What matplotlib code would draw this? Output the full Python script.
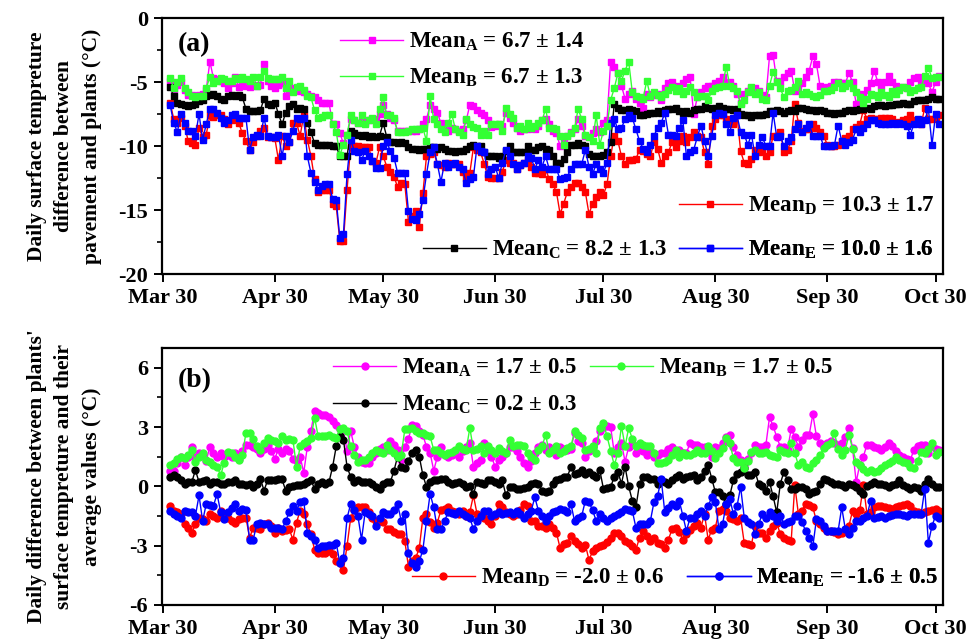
import matplotlib
matplotlib.use("Agg")
import matplotlib.pyplot as plt
import matplotlib.dates as mdates
import pandas as pd

plt.rcParams['font.family'] = ['Liberation Serif', 'DejaVu Serif']
plt.rcParams['font.weight'] = 'bold'
plt.rcParams['axes.unicode_minus'] = False
plt.rcParams['mathtext.fontset'] = 'custom'
plt.rcParams['mathtext.rm'] = 'Liberation Serif:bold'
plt.rcParams['mathtext.bf'] = 'Liberation Serif:bold'
plt.rcParams['mathtext.it'] = 'Liberation Serif:bold:italic'

# daily values, Apr 1 .. Oct 31
start_day = '2017-04-01'
tick_days = ['2017-03-30', '2017-04-30', '2017-05-30', '2017-06-30',
             '2017-07-30', '2017-08-30', '2017-09-30', '2017-10-30']

# (a) pavement minus plant surface temperature
a_A = [-4.9, -5.6, -5.2, -5.0, -5.6, -6.0, -6.0, -6.1, -6.0, -5.9,
       -5.6, -3.4, -4.7, -4.8, -4.9, -5.1, -5.5, -5.1, -4.6, -5.4,
       -5.2, -5.3, -5.4, -5.2, -5.3, -5.2, -3.6, -4.9, -5.3, -5.5,
       -5.2, -5.1, -6.1, -5.6, -5.5, -5.5, -5.7, -5.8, -5.9, -6.1,
       -6.2, -6.4, -6.6, -6.6, -6.6, -8.3, -8.3, -9.0, -9.8, -9.1,
       -7.9, -8.0, -8.2, -8.1, -8.2, -8.0, -7.9, -7.9, -7.5, -6.8,
       -7.5, -7.8, -8.0, -8.8, -8.8, -8.8, -8.8, -8.8, -8.8, -8.7,
       -8.3, -7.9, -6.8, -7.1, -7.4, -8.2, -8.3, -8.8, -8.6, -8.7,
       -8.8, -8.7, -8.0, -6.8, -6.9, -7.2, -7.4, -7.6, -8.0, -8.5,
       -8.4, -8.3, -8.4, -7.4, -7.8, -8.2, -8.6, -8.8, -8.7, -8.7,
       -8.6, -8.7, -8.4, -8.0, -7.9, -8.3, -8.8, -9.0, -10.0, -9.5,
       -9.2, -8.9, -8.7, -7.9, -8.4, -9.2, -9.3, -9.0, -8.7, -8.9,
       -8.2, -8.0, -3.4, -3.8, -4.3, -5.3, -6.3, -5.9, -5.7, -6.3,
       -6.6, -7.0, -5.9, -6.2, -6.0, -5.9, -6.4, -5.5, -5.1, -5.0,
       -5.3, -5.4, -5.1, -4.8, -4.6, -7.5, -6.2, -5.8, -5.5, -5.3,
       -5.3, -5.1, -4.9, -4.6, -5.1, -5.0, -5.3, -5.9, -6.6, -5.9,
       -5.7, -5.5, -5.5, -5.7, -6.0, -6.2, -3.0, -2.9, -4.9, -5.0,
       -4.6, -4.3, -4.1, -5.7, -5.4, -5.1, -4.6, -4.1, -3.0, -3.6,
       -5.3, -5.5, -5.4, -5.3, -5.0, -5.0, -5.1, -5.1, -4.3, -5.0,
       -6.7, -5.9, -6.1, -5.6, -5.1, -4.1, -5.0, -5.3, -5.0, -4.5,
       -5.0, -5.3, -5.5, -5.4, -5.5, -5.0, -4.7, -4.6, -5.1, -4.6,
       -5.1, -5.8, -5.0, -4.5]
a_B = [-4.7, -5.5, -5.0, -4.7, -5.5, -5.8, -6.1, -6.2, -6.1, -6.1,
       -5.5, -4.6, -5.1, -4.9, -4.7, -4.8, -4.9, -4.9, -4.7, -4.8,
       -4.6, -4.8, -4.9, -4.6, -5.3, -4.6, -4.1, -4.7, -4.8, -4.8,
       -4.8, -4.6, -5.5, -4.9, -5.8, -5.4, -5.3, -5.6, -6.1, -6.2,
       -7.2, -7.8, -7.7, -7.6, -7.6, -8.3, -8.9, -10.7, -9.9, -9.1,
       -7.6, -8.0, -8.2, -7.6, -8.3, -8.0, -7.8, -8.3, -7.1, -6.2,
       -7.6, -7.6, -7.8, -8.9, -8.9, -8.9, -8.8, -8.7, -8.7, -8.7,
       -8.6, -9.6, -6.1, -7.9, -8.3, -8.7, -8.9, -8.2, -7.5, -8.7,
       -8.9, -9.1, -7.9, -8.3, -8.5, -8.6, -9.1, -8.8, -9.1, -8.3,
       -8.3, -8.3, -8.8, -7.0, -7.5, -7.8, -8.6, -8.4, -8.7, -8.2,
       -8.6, -8.4, -8.2, -8.0, -7.1, -8.6, -8.6, -8.7, -9.2, -9.9,
       -9.2, -9.0, -8.6, -7.1, -7.9, -9.1, -9.3, -9.6, -7.6, -9.9,
       -8.8, -8.4, -6.4, -5.5, -4.3, -4.9, -4.1, -3.4, -5.8, -6.1,
       -6.2, -6.3, -4.9, -6.1, -5.8, -6.0, -6.2, -5.9, -5.6, -5.4,
       -5.7, -5.5, -5.9, -5.7, -5.4, -5.8, -6.2, -6.1, -6.1, -6.4,
       -5.7, -5.5, -5.4, -5.3, -3.8, -5.3, -5.5, -5.7, -6.7, -6.4,
       -5.8, -5.4, -5.9, -5.8, -6.3, -6.4, -5.3, -4.2, -5.0, -5.5,
       -6.2, -5.7, -5.6, -5.4, -4.9, -5.9, -5.8, -5.9, -6.1, -6.2,
       -6.0, -5.7, -5.7, -5.6, -5.4, -5.1, -5.5, -5.3, -5.1, -5.5,
       -5.8, -6.2, -6.6, -6.3, -5.9, -6.0, -6.2, -5.8, -6.0, -6.2,
       -5.7, -5.9, -5.6, -5.4, -5.5, -5.8, -5.6, -5.5, -5.4, -4.5,
       -3.9, -4.7, -4.6, -4.6]
a_C = [-5.4, -6.1, -6.6, -6.7, -6.8, -6.9, -6.8, -6.7, -6.5, -6.4,
       -6.1, -6.0, -5.9, -6.1, -6.3, -6.4, -6.1, -6.0, -6.1, -6.0,
       -6.2, -7.1, -7.3, -7.3, -7.3, -7.2, -6.3, -6.7, -6.8, -6.6,
       -7.5, -8.3, -7.4, -6.9, -6.7, -7.1, -7.0, -7.1, -8.2, -8.9,
       -9.8, -9.9, -9.9, -9.9, -9.9, -10.0, -10.0, -10.8, -10.8, -10.8,
       -8.8, -9.0, -9.1, -9.2, -9.1, -9.3, -9.2, -9.3, -9.2, -8.2,
       -9.3, -9.7, -9.7, -9.8, -9.7, -9.8, -10.1, -10.2, -10.2, -10.3,
       -10.2, -10.2, -10.1, -10.1, -10.2, -10.1, -10.2, -10.4, -10.4, -10.5,
       -10.4, -10.4, -10.2, -10.0, -9.9, -10.0, -10.0, -10.5, -10.8, -10.8,
       -10.8, -10.9, -10.8, -10.4, -10.0, -10.5, -10.5, -10.5, -10.5, -10.0,
       -10.3, -10.3, -10.1, -10.0, -10.2, -10.3, -10.8, -11.3, -11.3, -11.0,
       -10.5, -9.9, -9.9, -9.8, -9.9, -10.0, -10.6, -10.8, -10.8, -10.8,
       -10.7, -10.5, -9.7, -6.7, -7.0, -7.2, -7.2, -7.1, -7.2, -7.3,
       -7.6, -7.6, -7.5, -7.4, -7.4, -7.3, -7.4, -7.2, -7.1, -7.1,
       -7.0, -7.3, -7.4, -7.3, -7.4, -7.2, -7.1, -7.1, -6.9, -7.0,
       -7.1, -7.0, -6.9, -7.0, -7.1, -7.1, -7.2, -7.1, -7.5, -7.6,
       -7.6, -7.7, -7.6, -7.6, -7.6, -7.5, -7.3, -7.3, -7.2, -7.3,
       -7.4, -7.3, -7.2, -7.3, -7.0, -7.0, -7.1, -7.2, -7.2, -7.3,
       -7.2, -7.3, -7.4, -7.4, -7.5, -7.4, -7.4, -7.3, -7.2, -7.3,
       -7.2, -7.1, -7.1, -7.0, -7.1, -6.9, -6.8, -6.8, -6.9, -6.8,
       -6.8, -6.7, -6.7, -6.6, -6.7, -6.7, -6.5, -6.4, -6.4, -6.4,
       -6.3, -6.2, -6.3, -6.3]
a_D = [-6.6, -7.9, -8.2, -7.8, -8.4, -9.6, -9.8, -9.9, -8.6, -9.3,
       -9.1, -7.6, -7.7, -7.6, -7.6, -7.9, -8.3, -8.0, -7.9, -8.2,
       -9.0, -9.6, -10.3, -9.7, -9.2, -8.8, -8.6, -9.3, -9.3, -9.4,
       -11.1, -9.2, -10.0, -9.7, -8.2, -8.2, -9.2, -7.6, -9.5, -10.8,
       -12.6, -13.6, -13.4, -13.4, -13.4, -14.5, -14.7, -17.4, -17.4, -13.4,
       -10.0, -10.0, -10.0, -10.1, -10.1, -10.1, -11.2, -11.3, -10.1, -10.8,
       -11.6, -12.0, -12.4, -13.2, -12.9, -13.0, -15.9, -15.5, -15.1, -16.3,
       -13.7, -10.8, -10.6, -10.5, -11.4, -11.5, -11.6, -11.3, -11.4, -11.4,
       -11.4, -12.0, -12.5, -12.1, -10.1, -10.3, -10.5, -11.4, -12.4, -12.5,
       -12.5, -12.5, -12.0, -11.1, -11.3, -11.3, -11.8, -11.5, -11.3, -11.1,
       -11.6, -12.1, -12.1, -12.2, -11.8, -12.6, -13.0, -13.6, -15.3, -14.5,
       -13.6, -13.2, -12.9, -12.9, -13.2, -13.6, -15.3, -14.5, -14.0, -13.6,
       -13.8, -13.0, -10.8, -9.2, -9.6, -10.8, -11.4, -11.1, -11.1, -11.0,
       -10.3, -10.4, -10.6, -10.8, -9.7, -10.2, -11.3, -10.8, -10.5, -9.7,
       -10.1, -9.6, -9.2, -9.7, -9.3, -8.9, -9.2, -9.3, -10.5, -11.4,
       -8.4, -7.9, -7.6, -7.6, -7.9, -8.2, -8.3, -7.6, -10.4, -11.3,
       -11.4, -11.0, -10.3, -10.5, -10.3, -10.8, -10.5, -9.2, -9.2, -8.9,
       -10.5, -10.3, -9.6, -6.7, -8.2, -8.8, -8.7, -8.7, -8.3, -8.6,
       -8.9, -9.2, -9.9, -10.0, -10.0, -9.9, -9.6, -9.4, -9.2, -8.7,
       -8.5, -8.3, -7.2, -7.9, -7.8, -7.9, -7.9, -7.8, -7.8, -7.8,
       -7.9, -8.2, -8.1, -8.0, -7.9, -7.6, -8.0, -8.2, -8.3, -7.0,
       -7.9, -7.9, -7.8, -7.6]
a_E = [-6.8, -8.2, -8.9, -7.5, -8.2, -8.8, -8.8, -9.2, -7.5, -9.5,
       -8.3, -7.1, -7.1, -7.4, -7.8, -8.2, -8.0, -7.6, -7.5, -7.8,
       -7.8, -7.8, -10.3, -9.3, -9.1, -9.2, -7.8, -9.2, -9.3, -9.3,
       -9.1, -10.8, -9.2, -9.7, -8.8, -7.8, -7.9, -7.8, -10.8, -12.1,
       -12.8, -13.4, -13.1, -13.0, -13.0, -14.1, -14.2, -17.2, -16.9, -12.2,
       -9.5, -10.4, -10.5, -11.1, -10.4, -10.8, -11.2, -11.7, -11.7, -10.0,
       -9.7, -10.4, -10.9, -12.1, -12.1, -12.1, -15.1, -15.7, -15.8, -15.3,
       -14.2, -12.2, -10.5, -10.1, -11.4, -12.8, -11.3, -11.6, -11.4, -11.3,
       -11.6, -11.8, -12.9, -12.6, -12.4, -10.0, -10.4, -10.5, -12.2, -11.8,
       -11.6, -12.5, -11.3, -10.3, -10.8, -11.4, -11.8, -11.5, -11.3, -10.8,
       -10.9, -11.8, -11.1, -11.6, -10.8, -11.8, -11.8, -11.8, -12.6, -12.5,
       -12.4, -11.8, -11.4, -11.4, -11.4, -10.3, -11.6, -12.2, -11.4, -11.8,
       -12.1, -11.3, -8.2, -7.9, -8.7, -8.6, -7.9, -7.6, -7.8, -8.7,
       -9.6, -10.2, -10.5, -9.9, -9.2, -8.6, -8.2, -7.4, -9.1, -9.1,
       -9.2, -8.6, -8.0, -10.8, -10.5, -10.3, -9.3, -8.4, -9.6, -10.8,
       -9.2, -7.6, -7.4, -7.5, -8.3, -8.9, -7.8, -7.6, -8.9, -9.1,
       -9.9, -9.1, -10.8, -9.9, -9.3, -10.0, -10.0, -7.4, -9.3, -9.2,
       -10.0, -9.6, -9.3, -8.7, -8.3, -8.9, -8.6, -8.3, -9.2, -9.2,
       -9.2, -10.0, -10.0, -10.0, -9.9, -8.4, -9.6, -9.9, -9.7, -9.5,
       -8.7, -8.9, -8.6, -8.3, -8.0, -8.0, -8.2, -8.3, -8.3, -8.3,
       -8.2, -8.3, -8.2, -8.3, -8.4, -9.1, -8.3, -7.9, -8.3, -8.0,
       -7.1, -9.9, -7.5, -8.3]

# (b) plant surface temperature minus its average
b_A = [0.8, 0.8, 1.2, 1.5, 1.1, 1.5, 2.0, 1.5, 1.7, 1.6,
       1.3, 2.0, 1.7, 1.5, 1.7, 1.5, 1.6, 1.5, 1.7, 1.4,
       1.8, 2.1, 2.1, 2.0, 1.9, 1.7, 1.9, 2.1, 1.8, 1.4,
       1.9, 1.7, 1.9, 1.8, 1.4, 1.3, 1.5, 0.7, 2.0, 2.8,
       3.8, 3.7, 3.6, 3.6, 3.5, 3.3, 3.1, 2.9, 2.8, 1.8,
       2.8, 2.0, 1.5, 1.25, 1.2, 1.2, 1.5, 1.7, 1.9, 2.0,
       1.85, 2.3, 2.1, 1.85, 1.34, 2.0, 2.4, 3.1, 3.05, 2.8,
       2.6, 2.0, 1.7, 0.8, 1.5, 2.0, 1.6, 1.5, 1.6, 1.7,
       1.5, 1.8, 2.0, 2.2, 1.0, 1.2, 1.34, 2.2, 1.8, 1.5,
       1.0, 1.34, 1.5, 1.7, 2.0, 2.0, 1.8, 1.5, 1.16, 1.0,
       1.3, 1.7, 2.0, 2.1, 1.85, 2.0, 1.8, 1.6, 2.0, 1.9,
       1.85, 1.9, 2.7, 2.3, 2.2, 1.5, 1.8, 2.0, 2.3, 2.8,
       3.0, 3.05, 3.0, 1.7, 2.0, 2.2, 1.25, 2.0, 2.2, 1.7,
       2.0, 1.8, 1.6, 1.85, 1.5, 1.6, 1.7, 1.7, 1.9, 2.0,
       1.8, 1.85, 1.7, 1.7, 2.2, 2.1, 2.1, 2.0, 2.0, 1.8,
       1.5, 2.0, 1.95, 2.2, 2.5, 2.6, 2.0, 1.6, 1.34, 1.1,
       1.4, 1.7, 2.1, 2.0, 2.0, 2.1, 3.5, 3.05, 2.5, 2.0,
       2.0, 1.85, 2.9, 2.5, 2.0, 2.36, 2.6, 2.62, 3.65, 2.53,
       2.2, 2.0, 2.19, 2.28, 2.2, 2.11, 2.19, 2.5, 2.96, 1.93,
       0.22, 1.1, 1.51, 2.11, 2.11, 2.0, 1.93, 1.85, 2.0, 2.19,
       2.02, 1.8, 1.59, 1.51, 1.4, 1.34, 1.85, 2.02, 2.1, 2.11,
       1.68, 2.02, 1.9, 1.85]
b_B = [1.1, 1.16, 1.4, 1.5, 1.42, 1.6, 1.85, 1.25, 1.5, 1.68,
       1.34, 1.25, 1.1, 0.99, 0.57, 1.2, 1.76, 1.7, 1.5, 1.34,
       1.59, 2.71, 2.71, 2.4, 2.02, 1.85, 2.2, 2.45, 2.36, 2.3,
       2.19, 2.53, 2.36, 2.4, 2.36, 0.99, 2.02, 2.19, 2.3, 2.45,
       3.48, 2.53, 2.55, 2.53, 2.62, 2.5, 2.45, 2.88, 2.96, 2.79,
       2.02, 1.6, 1.25, 1.34, 1.34, 1.5, 1.68, 1.85, 1.75, 1.68,
       2.11, 1.85, 1.7, 1.51, 1.59, 2.88, 2.9, 2.96, 2.79, 2.71,
       2.7, 2.62, 2.53, 1.85, 1.85, 1.7, 1.59, 1.68, 1.75, 1.85,
       2.02, 1.9, 1.85, 2.96, 1.85, 1.9, 2.02, 1.68, 2.02, 1.85,
       1.68, 1.93, 1.8, 1.68, 2.36, 2.02, 2.11, 2.11, 2.02, 1.68,
       1.5, 1.34, 1.85, 2.02, 2.62, 1.68, 1.85, 2.02, 1.68, 1.8,
       1.93, 2.02, 2.79, 2.6, 2.45, 1.85, 1.9, 2.02, 1.68, 2.96,
       3.22, 2.53, 1.8, 1.08, 1.68, 3.05, 2.02, 2.96, 2.4, 2.02,
       2.19, 2.1, 2.02, 2.02, 1.68, 1.16, 1.2, 1.25, 1.34, 1.6,
       1.85, 1.51, 1.68, 1.6, 1.59, 1.68, 1.85, 1.7, 1.68, 2.02,
       1.8, 1.42, 1.68, 1.93, 2.45, 2.19, 1.42, 1.25, 1.25, 0.91,
       1.3, 1.76, 1.85, 1.7, 1.68, 1.76, 1.59, 1.55, 1.51, 1.85,
       1.75, 1.68, 2.19, 1.68, 1.08, 1.25, 1.0, 0.91, 1.16, 1.34,
       1.6, 1.93, 2.11, 2.19, 2.71, 1.9, 1.59, 1.85, 2.62, 1.9,
       1.25, 1.08, 0.9, 0.74, 0.82, 0.74, 0.8, 0.91, 1.08, 1.16,
       1.3, 1.51, 1.34, 1.25, 1.16, 0.99, 0.91, 1.3, 1.76, 1.68,
       1.9, 2.19, 1.59, 1.76]
b_C = [0.48, 0.57, 0.45, 0.31, 0.14, 0.2, 0.22, 0.82, 0.22, 0.25,
       0.31, 0.14, 0.2, 0.22, 0.14, 0.14, 0.2, 0.22, 0.31, 0.14,
       0.1, 0.05, 0.14, -0.03, 0.1, 0.39, -0.21, 0.31, 0.31, 0.3,
       0.39, 0.35, -0.21, -0.03, 0.0, 0.05, 0.05, 0.14, 0.2, 0.31,
       -0.12, 0.1, 0.22, 0.14, 0.22, 0.99, 2.02, 2.53, 2.36, 0.99,
       0.48, 0.22, 0.31, 0.22, 0.22, 0.22, 0.1, -0.03, -0.12, 0.1,
       0.22, 0.22, 0.8, 1.51, 0.99, 0.91, 1.3, 1.68, 1.85, 1.51,
       0.57, -0.03, 0.2, 0.31, 0.31, 0.35, 0.39, 0.22, 0.14, 0.18,
       0.22, 0.14, -0.03, 0.0, -0.38, 0.22, 0.18, 0.14, 0.31, 0.31,
       0.2, 0.14, 0.31, -0.46, -0.03, -0.03, -0.12, -0.12, -0.08, -0.03,
       0.14, 0.18, 0.14, -0.21, -0.29, -0.21, 0.1, 0.31, 0.39, 0.45,
       0.48, 0.99, 0.65, 0.7, 0.82, 0.65, 0.74, 0.6, 0.48, 0.82,
       -0.12, -0.1, -0.03, 0.48, 0.74, 0.14, 0.99, 0.0, -0.72, -1.06,
       0.14, 0.48, 0.45, 0.39, 0.39, 0.14, 0.31, 0.2, 0.14, 0.31,
       0.45, 0.57, 0.39, 0.48, 0.5, 0.57, 0.31, 0.48, 0.8, 1.08,
       0.39, -0.29, -0.29, -0.5, -0.89, -0.46, 0.31, 0.65, 0.74, 0.91,
       0.6, 0.57, 0.74, 0.14, 0.0, -0.21, 0.22, -0.5, -1.32, 0.14,
       0.74, 0.3, -0.12, -0.12, -0.05, -0.03, -0.12, -0.38, -0.3, -0.21,
       0.14, 0.39, 0.3, 0.22, 0.14, 0.1, 0.05, -0.03, 0.14, 0.05,
       -0.03, -0.21, -0.38, 0.0, 0.14, 0.22, 0.14, 0.1, 0.05, -0.03,
       0.05, 0.14, 0.31, 0.05, -0.05, -0.12, -0.03, -0.1, -0.21, 0.14,
       0.39, 0.1, -0.03, -0.03]
b_D = [-0.98, -1.23, -1.3, -1.4, -1.92, -2.1, -2.35, -1.92, -1.58, -1.65,
       -1.75, -1.4, -1.5, -1.58, -1.23, -1.4, -1.6, -1.75, -1.83, -1.66,
       -1.6, -1.58, -2.6, -2.09, -2.1, -2.17, -1.92, -1.83, -2.0, -2.35,
       -2.09, -2.26, -2.2, -2.17, -2.69, -1.83, -1.23, -1.4, -1.9, -2.43,
       -3.2, -3.37, -3.37, -3.37, -3.29, -3.4, -3.8, -3.9, -4.23, -3.0,
       -1.6, -1.2, -1.06, -1.06, -1.06, -1.3, -1.58, -1.75, -1.75, -1.8,
       -2.17, -2.17, -2.3, -2.43, -2.43, -2.77, -4.06, -3.8, -3.63, -3.12,
       -1.58, -1.4, -1.8, -2.09, -1.83, -1.2, -1.15, -1.06, -1.23, -1.3,
       -1.4, -1.23, -1.49, -1.3, -0.46, -1.4, -1.5, -1.58, -1.75, -1.92,
       -1.5, -0.89, -1.06, -1.32, -1.4, -1.49, -1.4, -1.2, -0.89, -0.98,
       -1.75, -1.75, -2.0, -2.0, -2.09, -1.92, -2.1, -2.35, -3.12, -2.9,
       -2.86, -2.52, -2.77, -2.9, -3.12, -2.95, -3.72, -3.29, -3.1, -3.03,
       -2.95, -2.8, -2.6, -2.35, -2.35, -2.5, -2.77, -2.86, -3.0, -3.2,
       -2.6, -2.26, -2.5, -2.77, -2.6, -2.86, -2.9, -3.12, -2.69, -2.17,
       -2.09, -2.3, -2.69, -2.43, -2.2, -2.0, -1.83, -2.09, -1.4, -2.69,
       -2.2, -2.09, -1.23, -1.15, -1.23, -1.6, -1.66, -1.75, -1.58, -2.86,
       -2.9, -2.95, -2.0, -2.35, -2.35, -2.6, -2.26, -2.0, -1.83, -2.43,
       -2.6, -2.69, -2.77, 0.05, -1.4, -1.23, -0.89, -0.95, -1.06, -1.75,
       -1.9, -2.09, -2.26, -2.26, -2.3, -2.43, -2.35, -2.26, -2.0, -1.23,
       -1.4, -1.2, 0.05, -1.4, -1.32, -1.06, -1.0, -0.98, -1.06, -1.1,
       -1.15, -1.06, -0.98, -0.95, -0.89, -0.98, -1.23, -1.3, -1.4, -1.32,
       -1.23, -1.2, -1.15, -1.23]
b_E = [-1.23, -1.4, -1.5, -1.58, -1.23, -1.3, -1.32, -1.49, -0.46, -1.75,
       -0.89, -0.95, -0.98, -0.38, -1.32, -1.66, -1.32, -1.1, -0.89, -1.23,
       -1.15, -1.2, -2.69, -2.69, -1.92, -1.83, -1.9, -1.92, -2.09, -2.1,
       -2.09, -2.17, -1.75, -1.3, -0.98, -1.23, -0.8, -0.72, -2.35, -2.5,
       -2.69, -3.12, -3.03, -3.0, -2.95, -2.95, -2.86, -3.89, -3.6, -1.6,
       -0.89, -1.2, -1.49, -2.69, -1.32, -1.4, -1.49, -2.0, -1.6, -1.32,
       -1.4, -1.4, -1.2, -0.89, -1.75, -1.4, -3.37, -3.89, -4.06, -3.8,
       -3.2, -1.75, -0.38, -1.06, -2.17, -2.17, -1.75, -1.32, -1.35, -1.4,
       -1.23, -1.4, -1.49, -1.58, -2.17, -1.75, -1.5, -1.23, -1.23, -1.49,
       -1.4, -1.32, -1.4, -1.35, -1.32, -1.4, -1.23, -1.4, -1.58, -1.4,
       -1.23, -0.55, -1.23, -1.5, -1.75, -1.49, -1.3, -1.23, -1.15, -1.2,
       -1.32, -0.89, -1.75, -1.6, -1.49, -0.72, -0.8, -1.2, -1.75, -1.4,
       -1.6, -1.75, -1.58, -1.49, -1.4, -1.32, -1.15, -1.2, -1.23, -2.09,
       -1.92, -1.92, -1.9, -1.75, -0.8, -0.5, 0.39, -1.32, -1.1, -0.89,
       -0.98, -0.72, -1.5, -2.26, -1.58, -1.58, -1.4, -1.23, -1.49, -1.0,
       -0.55, -0.8, -2.17, -1.92, -0.89, -0.63, -1.4, -1.0, -0.03, -1.58,
       -1.8, -1.92, -2.43, -1.9, -1.4, -1.58, -1.32, -1.5, -1.75, -1.49,
       -1.92, -1.8, -1.75, -1.49, -1.49, -1.8, -2.26, -2.6, -3.03, -1.66,
       -1.75, -2.0, -2.26, -2.26, -2.26, -2.26, -1.06, -2.17, -2.43, -2.1,
       -1.75, -1.75, -1.6, -1.49, -0.72, -1.58, -1.55, -1.49, -1.58, -1.49,
       -1.45, -1.4, -1.4, -1.45, -1.49, -1.4, -1.4, -1.42, -1.4, -0.12,
       -2.86, -2.0, -1.49, -1.58]

labels_a = ['Mean$_{\\rm A}$ = 6.7 \u00b1 1.4', 'Mean$_{\\rm B}$ = 6.7 \u00b1 1.3',
            'Mean$_{\\rm C}$ = 8.2 \u00b1 1.3', 'Mean$_{\\rm D}$ = 10.3 \u00b1 1.7',
            'Mean$_{\\rm E}$ = 10.0 \u00b1 1.6']
labels_b = ['Mean$_{\\rm A}$ = 1.7 \u00b1 0.5', 'Mean$_{\\rm B}$ = 1.7 \u00b1 0.5',
            'Mean$_{\\rm C}$ = 0.2 \u00b1 0.3', 'Mean$_{\\rm D}$ = -2.0 \u00b1 0.6',
            'Mean$_{\\rm E}$ = -1.6 \u00b1 0.5']

colors = {'A': '#ff00ff', 'B': '#33ff33', 'C': '#000000', 'D': '#ff0000', 'E': '#0000ff'}
order = ['A', 'D', 'C', 'E', 'B']

dates = pd.date_range(start_day, periods=len(a_A), freq='D')
ticks = pd.to_datetime(tick_days)


def style_axis(ax, ylim, major, minor):
    ax.set_xlim(pd.Timestamp('2017-03-29 18:00'), pd.Timestamp('2017-11-01'))
    ax.set_ylim(*ylim)
    ax.set_xticks(ticks)
    ax.xaxis.set_major_formatter(mdates.DateFormatter('%b %d'))
    ax.set_yticks(major)
    ax.set_yticks(minor, minor=True)
    ax.tick_params(axis='both', which='major', direction='out', length=6, width=1.4,
                   labelsize=16, pad=4)
    ax.tick_params(axis='y', which='minor', direction='out', length=3.5, width=1.2)
    for s in ax.spines.values():
        s.set_linewidth(1.6)
    for t in ax.get_xticklabels() + ax.get_yticklabels():
        t.set_fontweight('bold')


def add_key(ax, line, text, x, y):
    leg = ax.legend([line], [text], loc='center left', bbox_to_anchor=(x, y),
                    frameon=False, fontsize=16.5, handlelength=2.75,
                    handletextpad=0.25, borderpad=0, borderaxespad=0)
    ax.add_artist(leg)


fig = plt.figure(figsize=(9.76, 6.44), dpi=100)
ax1 = fig.add_axes([0.166, 0.5745, 0.800, 0.3975])
ax2 = fig.add_axes([0.166, 0.0606, 0.800, 0.399])

series_a = {'A': a_A, 'B': a_B, 'C': a_C, 'D': a_D, 'E': a_E}
series_b = {'A': b_A, 'B': b_B, 'C': b_C, 'D': b_D, 'E': b_E}

lines_a = {}
for k in order:
    lines_a[k], = ax1.plot(dates, series_a[k], color=colors[k], lw=1.0,
                           marker='s', ms=4.4, mec=colors[k], mfc=colors[k])
lines_b = {}
for k in order:
    lines_b[k], = ax2.plot(dates, series_b[k], color=colors[k], lw=1.0,
                           marker='o', ms=5, mec=colors[k], mfc=colors[k])

style_axis(ax1, (-20, 0), [-20, -15, -10, -5, 0], [-17.5, -12.5, -7.5, -2.5])
style_axis(ax2, (-6, 7), [-6, -3, 0, 3, 6], [-4.5, -1.5, 1.5, 4.5])

pos_a = {'A': (0.228, 0.906), 'B': (0.228, 0.766), 'D': (0.662, 0.266),
         'C': (0.334, 0.095), 'E': (0.662, 0.095)}
pos_b = {'A': (0.219, 0.922), 'B': (0.548, 0.922), 'C': (0.219, 0.778),
         'D': (0.320, 0.105), 'E': (0.673, 0.105)}
for i, k in enumerate(['A', 'B', 'C', 'D', 'E']):
    add_key(ax1, lines_a[k], labels_a[i], *pos_a[k])
    add_key(ax2, lines_b[k], labels_b[i], *pos_b[k])

ax1.text(0.02, 0.895, '(a)', transform=ax1.transAxes, fontsize=20,
         fontweight='bold', va='center', ha='left')
ax2.text(0.02, 0.875, '(b)', transform=ax2.transAxes, fontsize=20,
         fontweight='bold', va='center', ha='left')

fig.text(0.066, 0.773, 'Daily surface tempreture\ndifference between\npavement and plants (\u00b0C)',
         rotation=90, ha='center', va='center', multialignment='center',
         fontsize=15.5, fontweight='bold', linespacing=1.5)
fig.text(0.066, 0.26, "Daily difference between plants'\nsurface tempreture and their\naverage values (\u00b0C)",
         rotation=90, ha='center', va='center', multialignment='center',
         fontsize=15.5, fontweight='bold', linespacing=1.5)

fig.savefig('out.png', dpi=100)
